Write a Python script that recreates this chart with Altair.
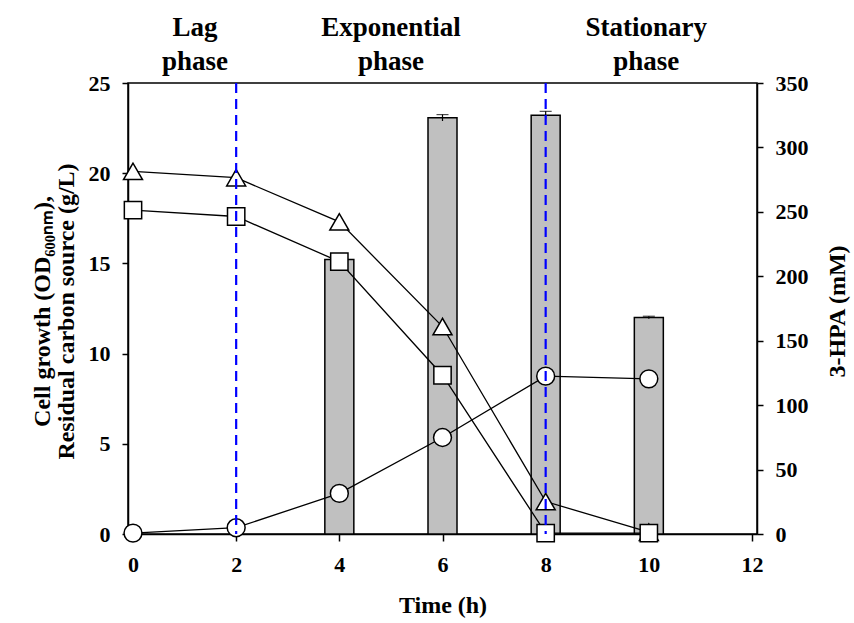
import altair as alt
import pandas as pd

# ---- data ----
time = [0, 2, 4, 6, 8, 10]
residual_tri = [20.1, 19.75, 17.3, 11.5, 1.8, 0.1]   # triangles (left axis)
residual_sq = [17.95, 17.6, 15.1, 8.8, 0.05, 0.05]   # squares (left axis)
od600 = [0.05, 0.35, 2.25, 5.35, 8.75, 8.6]          # circles (left axis)

bar_time = [4, 6, 8, 10]
hpa = [213, 323, 325, 168]                            # 3-HPA (mM), right axis
hpa_err = [1.5, 2.5, 3.0, 1.0]

phase_x = [1.2, 5.0, 9.95]
phase_labels = ["Lag\nphase", "Exponential\nphase", "Stationary\nphase"]
boundary_times = [2, 8]

FONT = "Liberation Serif"

lines_df = pd.DataFrame({
    "time": time * 3,
    "value": residual_tri + residual_sq + od600,
    "series": ["tri"] * 6 + ["sq"] * 6 + ["circ"] * 6,
})
bars_df = pd.DataFrame({
    "time": bar_time, "hpa": hpa,
    "lo": [h - e for h, e in zip(hpa, hpa_err)],
    "hi": [h + e for h, e in zip(hpa, hpa_err)],
})
phase_df = pd.DataFrame({"time": phase_x, "label": phase_labels})
vline_df = pd.DataFrame({"time": boundary_times})

common = dict(grid=False, labelFont=FONT, labelFontSize=22, labelFontWeight="bold",
              titleFont=FONT, titleFontWeight="bold",
              domainColor="black", tickColor="black", labelColor="black",
              titleColor="black", domainWidth=1.5, tickWidth=1.5)

xscale = alt.Scale(domain=[0, 12], nice=False)
xaxis = alt.Axis(values=[0, 2, 4, 6, 8, 10, 12], title="Time (h)",
                 titleFontSize=24, titleY=71, titleBaseline="middle",
                 tickSize=7, labelPadding=13, **common)

lscale = alt.Scale(domain=[0, 25], nice=False)
rscale = alt.Scale(domain=[0, 350], nice=False)

laxis = alt.Axis(orient="left", values=[0, 5, 10, 15, 20, 25],
                 title=["Cell growth (OD₆₀₀ₙₘ),", "Residual carbon source (g/L)"],
                 titleFontSize=24,
                 titleX=-86, titleY=228, titleAngle=270, titleBaseline="middle",
                 titleLineHeight=24, titleAlign="center",
                 tickSize=6, labelPadding=12, **common)

raxis = alt.Axis(orient="right", values=[0, 50, 100, 150, 200, 250, 300, 350],
                 title="3-HPA (mM)", titleFontSize=24,
                 titleX=80, titleY=228, titleAngle=270, titleBaseline="middle",
                 titleAlign="center",
                 tickSize=6, labelPadding=12, **common)

# ---- right-axis group: bars + error bars ----
bars = alt.Chart(bars_df).mark_bar(size=29, color="#c0c0c0", stroke="black",
                                   strokeWidth=1.5).encode(
    x=alt.X("time:Q", scale=xscale, axis=xaxis),
    y=alt.Y("hpa:Q", scale=rscale, axis=raxis),
)
err = alt.Chart(bars_df).mark_rule(color="black", strokeWidth=1.2).encode(
    x=alt.X("time:Q", scale=xscale),
    y=alt.Y("lo:Q", scale=rscale), y2="hi:Q")
errcap = alt.Chart(bars_df).mark_tick(color="black", thickness=1.2, size=12,
                                       orient="horizontal").encode(
    x=alt.X("time:Q", scale=xscale),
    y=alt.Y("hi:Q", scale=rscale))
right = alt.layer(bars, err, errcap)

# ---- left-axis group: lines + markers + dashed boundaries ----
base = alt.Chart(lines_df)
lines = base.mark_line(color="black", strokeWidth=1.3).encode(
    x=alt.X("time:Q", scale=xscale),
    y=alt.Y("value:Q", scale=lscale, axis=laxis),
    detail="series:N",
)
shape_map = {"tri": ("triangle-up", 360), "sq": ("square", 300), "circ": ("circle", 320)}
pts = []
for s, (shp, sz) in shape_map.items():
    pts.append(base.transform_filter(alt.datum.series == s).mark_point(
        shape=shp, size=sz, filled=True, fill="white", stroke="black",
        strokeWidth=1.5, opacity=1).encode(
        x=alt.X("time:Q", scale=xscale),
        y=alt.Y("value:Q", scale=lscale)))

vlines = alt.Chart(vline_df).mark_rule(color="#0000ff", strokeWidth=2.2,
                                       strokeDash=[10, 6]).encode(
    x=alt.X("time:Q", scale=xscale),
    y=alt.value(0), y2=alt.value(451))

phase_text = alt.Chart(phase_df).mark_text(
    font=FONT, fontSize=27, fontWeight="bold", color="black", lineBreak="\n",
    lineHeight=34, baseline="middle", align="center").encode(
    x=alt.X("time:Q", scale=xscale),
    y=alt.value(-55), text="label:N")

left = alt.layer(lines, *pts, vlines, phase_text)

chart = alt.layer(right, left).resolve_scale(y="independent").properties(
    width=629, height=451, background="white",
    autosize=alt.AutoSizeParams(type="none"),
    padding={"left": 128, "top": 83, "right": 97, "bottom": 89},
).configure_view(stroke="black", strokeWidth=1.5)

chart.save("out.html", embed_options={"renderer": "svg", "actions": False})
